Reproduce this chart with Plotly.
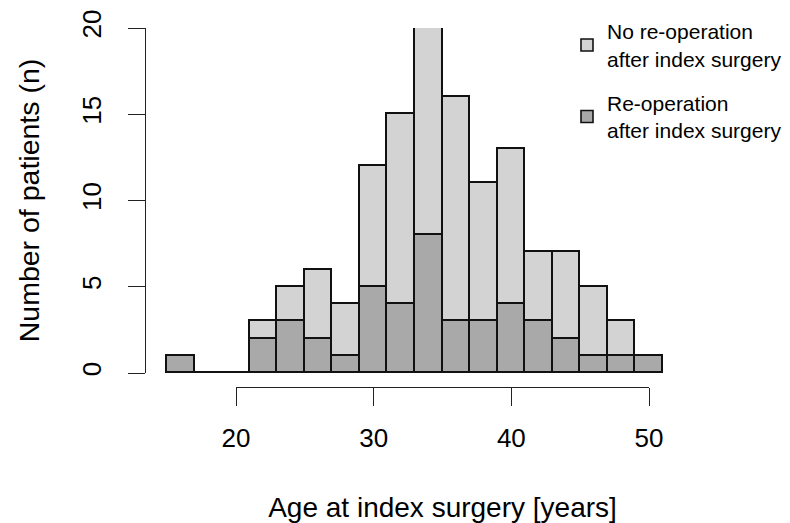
import plotly.graph_objects as go

# Histogram bins (age in years, bin width 2)
bin_start = [15, 17, 19, 21, 23, 25, 27, 29, 31, 33, 35, 37, 39, 41, 43, 45, 47, 49]
bin_width = 2
reop = [1, 0, 0, 2, 3, 2, 1, 5, 4, 8, 3, 3, 4, 3, 2, 1, 1, 1]
no_reop = [0, 0, 0, 1, 2, 4, 3, 7, 11, 12, 13, 8, 9, 4, 5, 4, 2, 0]
x_ticks = [20, 30, 40, 50]
y_ticks = [0, 5, 10, 15, 20]

centers = [b + bin_width / 2 for b in bin_start]
FONT = "Liberation Sans, Arial, sans-serif"
edge = dict(color="#111111", width=1.6)

# plot area: 145..690 px horizontally; 13.77 px per year, 20 -> 236 px
PX_PER_YEAR = 413 / 30
PLOT_W = 545
x_lo = x_ticks[0] - 91 / PX_PER_YEAR
x_hi = x_lo + PLOT_W / PX_PER_YEAR

fig = go.Figure()
fig.add_trace(go.Bar(
    x=centers, y=reop, width=[bin_width] * len(centers),
    marker=dict(color="#a9a9a9", line=edge),
    name="Re-operation<br>after index surgery", legendrank=2, legendgroup="b",
))
fig.add_trace(go.Bar(
    x=centers, y=no_reop, width=[bin_width] * len(centers),
    marker=dict(color="#d3d3d3", line=edge),
    name="No re-operation<br>after index surgery", legendrank=1, legendgroup="a",
))
# invisible helper so the R-style (20..50) axis gets drawn
fig.add_trace(go.Scatter(
    x=x_ticks, y=[0] * len(x_ticks), xaxis="x2", yaxis="y", mode="markers",
    marker=dict(opacity=0), showlegend=False, hoverinfo="skip",
))

fig.update_layout(
    width=790, height=523,
    barmode="stack", bargap=0,
    plot_bgcolor="rgba(0,0,0,0)", paper_bgcolor="white",
    margin=dict(l=145, r=790 - 145 - PLOT_W, t=28, b=136, autoexpand=False),
    font=dict(family=FONT, color="black"),
    showlegend=True,
    legend=dict(x=(567 - 145) / PLOT_W, y=1.047, xanchor="left", yanchor="top",
                font=dict(size=21, family=FONT), bgcolor="rgba(0,0,0,0)",
                tracegroupgap=14, itemclick=False),
    xaxis=dict(domain=[0, 1], range=[x_lo, x_hi], visible=False, anchor="y"),
    xaxis2=dict(domain=[91 / PLOT_W, 504 / PLOT_W], range=[x_ticks[0], x_ticks[-1]],
                anchor="free", position=0,
                tickvals=x_ticks, ticks="outside", ticklen=18, tickwidth=1.3,
                tickcolor="#222222", showline=True, linecolor="#222222", linewidth=1.3,
                showgrid=False, zeroline=False, tickfont=dict(size=26),
                ticklabelstandoff=10,
                title=dict(text="Age at index surgery [years]", font=dict(size=28), standoff=46)),
    yaxis=dict(domain=[14 / 359, 1], range=[0, 20], anchor="free", position=0,
               tickvals=y_ticks, ticks="outside", ticklen=17, tickwidth=1.3,
               tickcolor="#222222", showline=True, linecolor="#222222", linewidth=1.3,
               showgrid=False, zeroline=False, tickfont=dict(size=26), tickangle=-90,
               ticklabelstandoff=16,
               title=dict(text="Number of patients (n)", font=dict(size=28.5), standoff=28)),
)

fig.write_html("out.html", post_script="document.body.style.margin='0';",
               config={"displayModeBar": False})
